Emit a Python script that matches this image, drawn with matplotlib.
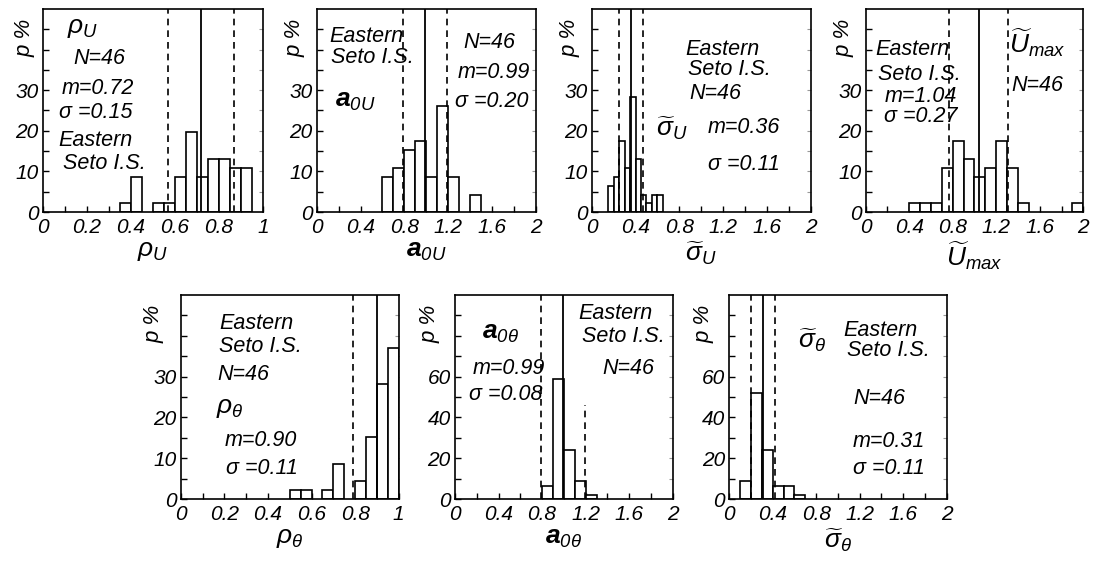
import matplotlib
matplotlib.use('Agg')
import matplotlib.pyplot as plt

plt.rcParams['font.family'] = ['Liberation Sans', 'DejaVu Sans']
plt.rcParams['font.style'] = 'italic'
plt.rcParams['mathtext.fontset'] = 'custom'
plt.rcParams['mathtext.rm'] = 'Liberation Sans:italic'
plt.rcParams['mathtext.it'] = 'Liberation Sans:italic'
plt.rcParams['mathtext.bf'] = 'Liberation Sans:bold'

# histogram data (bin left edge, percent), N=46 everywhere
rhoU_left = [0.35, 0.40, 0.50, 0.55, 0.60, 0.65, 0.70, 0.75, 0.80, 0.85, 0.90]
rhoU_pct = [2.2, 8.7, 2.2, 2.2, 8.7, 19.6, 8.7, 13.0, 13.0, 10.9, 10.9]
a0U_left = [0.6, 0.7, 0.8, 0.9, 1.0, 1.1, 1.2, 1.4]
a0U_pct = [8.7, 10.9, 15.2, 17.4, 8.7, 26.1, 8.7, 4.3]
sigU_left = [0.15, 0.20, 0.25, 0.30, 0.35, 0.40, 0.45, 0.50, 0.55, 0.60]
sigU_pct = [6.5, 8.7, 17.4, 10.9, 28.3, 13.0, 4.3, 2.2, 4.3, 4.3]
umax_left = [0.4, 0.5, 0.6, 0.7, 0.8, 0.9, 1.0, 1.1, 1.2, 1.3, 1.4, 1.9]
umax_pct = [2.2, 2.2, 2.2, 10.9, 17.4, 13.0, 8.7, 10.9, 17.4, 10.9, 2.2, 2.2]
rhoT_left = [0.50, 0.55, 0.65, 0.70, 0.80, 0.85, 0.90, 0.95]
rhoT_pct = [2.2, 2.2, 2.2, 8.7, 4.3, 15.2, 28.3, 37.0]
a0T_left = [0.8, 0.9, 1.0, 1.1, 1.2]
a0T_pct = [6.5, 58.7, 23.9, 8.7, 2.2]
sigT_left = [0.1, 0.2, 0.3, 0.4, 0.5, 0.6]
sigT_pct = [8.7, 52.2, 23.9, 6.5, 6.5, 2.2]

# mean (solid) and dashed reference lines
rhoU_lines = (0.72, [0.57, 0.87])
a0U_lines = (0.99, [0.79, 1.19])
sigU_lines = (0.36, [0.25, 0.47])
umax_lines = (1.04, [0.77, 1.31])
rhoT_lines = (0.90, [0.79])
a0T_lines = (0.99, [0.79, 1.19])
sigT_lines = (0.31, [0.20, 0.42])

x1_ticks = [0, 0.2, 0.4, 0.6, 0.8, 1]
x1_labels = ['0', '0.2', '0.4', '0.6', '0.8', '1']
x2_ticks = [0, 0.4, 0.8, 1.2, 1.6, 2]
x2_labels = ['0', '0.4', '0.8', '1.2', '1.6', '2']

fig = plt.figure(figsize=(10.94, 5.61), dpi=100)


def panel(rect, left, pct, width, lines, xmax, ymax, xlabel, texts,
          dash_top=None, ylab_x=-0.1):
    ax = fig.add_axes(rect)
    ax.bar(left, pct, width=width, align='edge', facecolor='white',
           edgecolor='black', linewidth=1.2, zorder=2)
    m, dashed = lines
    ax.axvline(m, color='black', lw=1.3, zorder=3)
    for i, d in enumerate(dashed):
        top = 1
        if dash_top is not None and i == 1:
            top = dash_top
        ax.axvline(d, ymax=top, color='black', lw=1.2, ls=(0, (4, 3)), zorder=3)
    ax.set_xlim(0, xmax)
    ax.set_ylim(0, ymax)
    if xmax == 1:
        ax.set_xticks(x1_ticks)
        ax.set_xticklabels(x1_labels, fontstyle='italic')
        ax.set_xticks([0.1, 0.3, 0.5, 0.7, 0.9], minor=True)
    else:
        ax.set_xticks(x2_ticks)
        ax.set_xticklabels(x2_labels, fontstyle='italic')
        ax.set_xticks([0.2, 0.6, 1.0, 1.4, 1.8], minor=True)
    step = ymax / 10
    yt = [step * i for i in range(10)]
    ax.set_yticks(yt)
    ax.set_yticklabels([('%d' % v) if (v % (2 * step) == 0 and v <= 6 * step) else ''
                        for v in yt], fontstyle='italic')
    ax.tick_params(which='both', direction='in', length=4, width=1,
                   labelsize=15, pad=3)
    ax.tick_params(axis='x', which='both', pad=4)
    sec = ax.secondary_yaxis('right')
    sec.set_yticks(yt[1:])
    sec.tick_params(direction='in', length=3, color='0.6', labelright=False)
    sec.spines['right'].set_visible(False)
    for s in ax.spines.values():
        s.set_linewidth(1.2)
    ax.set_ylabel('p %', fontsize=16, va='center', ha='center')
    ax.yaxis.set_label_coords(ylab_x, 0.86)
    ax.set_xlabel(xlabel, fontsize=19, labelpad=2)
    for tx, ty, s in texts:
        size = 19 if s.startswith('$') else 15.5
        ax.text(tx, ty, s, transform=ax.transAxes, ha='center', va='center',
                fontsize=size, zorder=4)
    return ax


panel([0.0393, 0.6221, 0.2011, 0.3619], rhoU_left, rhoU_pct, 0.05, rhoU_lines,
      1, 50, r'$\rho_{U}$',
      [(0.18, 0.906, r'$\rho_{U}$'), (0.258, 0.754, 'N=46'),
       (0.25, 0.606, 'm=0.72'), (0.242, 0.491, 'σ =0.15'),
       (0.24, 0.35, 'Eastern'), (0.28, 0.241, 'Seto I.S.')],
      ylab_x=-0.08)

panel([0.2895, 0.6221, 0.2002, 0.3619], a0U_left, a0U_pct, 0.1, a0U_lines,
      2, 50, r'$\mathbf{a}_{0U}$',
      [(0.227, 0.865, 'Eastern'), (0.254, 0.759, 'Seto I.S.'),
       (0.178, 0.545, r'$\mathbf{a}_{0U}$'), (0.79, 0.836, 'N=46'),
       (0.807, 0.688, 'm=0.99'), (0.80, 0.545, 'σ =0.20')])

panel([0.5409, 0.6221, 0.2002, 0.3619], sigU_left, sigU_pct, 0.05, sigU_lines,
      2, 50, r'$\widetilde{\sigma}_{U}$',
      [(0.597, 0.80, 'Eastern'), (0.627, 0.70, 'Seto I.S.'),
       (0.563, 0.586, 'N=46'), (0.365, 0.414, r'$\widetilde{\sigma}_{U}$'),
       (0.693, 0.414, 'm=0.36'), (0.696, 0.233, 'σ =0.11')])

panel([0.7913, 0.6221, 0.1989, 0.3619], umax_left, umax_pct, 0.1, umax_lines,
      2, 50, r'$\widetilde{U}_{max}$',
      [(0.215, 0.80, 'Eastern'), (0.245, 0.677, 'Seto I.S.'),
       (0.253, 0.57, 'm=1.04'), (0.253, 0.471, 'σ =0.27'),
       (0.79, 0.833, r'$\widetilde{U}_{max}$'), (0.79, 0.622, 'N=46')])

panel([0.1654, 0.1105, 0.199, 0.3636], rhoT_left, rhoT_pct, 0.05, rhoT_lines,
      1, 50, r'$\rho_{\theta}$',
      [(0.348, 0.861, 'Eastern'), (0.366, 0.747, 'Seto I.S.'),
       (0.286, 0.608, 'N=46'), (0.225, 0.444, r'$\rho_{\theta}$'),
       (0.366, 0.289, 'm=0.90'), (0.374, 0.150, 'σ =0.11')],
      ylab_x=-0.125)

panel([0.4159, 0.1105, 0.199, 0.3636], a0T_left, a0T_pct, 0.1, a0T_lines,
      2, 100, r'$\mathbf{a}_{0\theta}$',
      [(0.21, 0.812, r'$\mathbf{a}_{0\theta}$'), (0.245, 0.64, 'm=0.99'),
       (0.233, 0.51, 'σ =0.08'), (0.738, 0.91, 'Eastern'),
       (0.772, 0.796, 'Seto I.S.'), (0.796, 0.64, 'N=46')],
      dash_top=0.46, ylab_x=-0.115)

panel([0.6666, 0.1105, 0.1987, 0.3636], sigT_left, sigT_pct, 0.1, sigT_lines,
      2, 100, r'$\widetilde{\sigma}_{\theta}$',
      [(0.382, 0.78, r'$\widetilde{\sigma}_{\theta}$'), (0.696, 0.828, 'Eastern'),
       (0.731, 0.73, 'Seto I.S.'), (0.689, 0.493, 'N=46'),
       (0.735, 0.281, 'm=0.31'), (0.735, 0.150, 'σ =0.11')],
      ylab_x=-0.115)

fig.savefig('out.png', dpi=100)
